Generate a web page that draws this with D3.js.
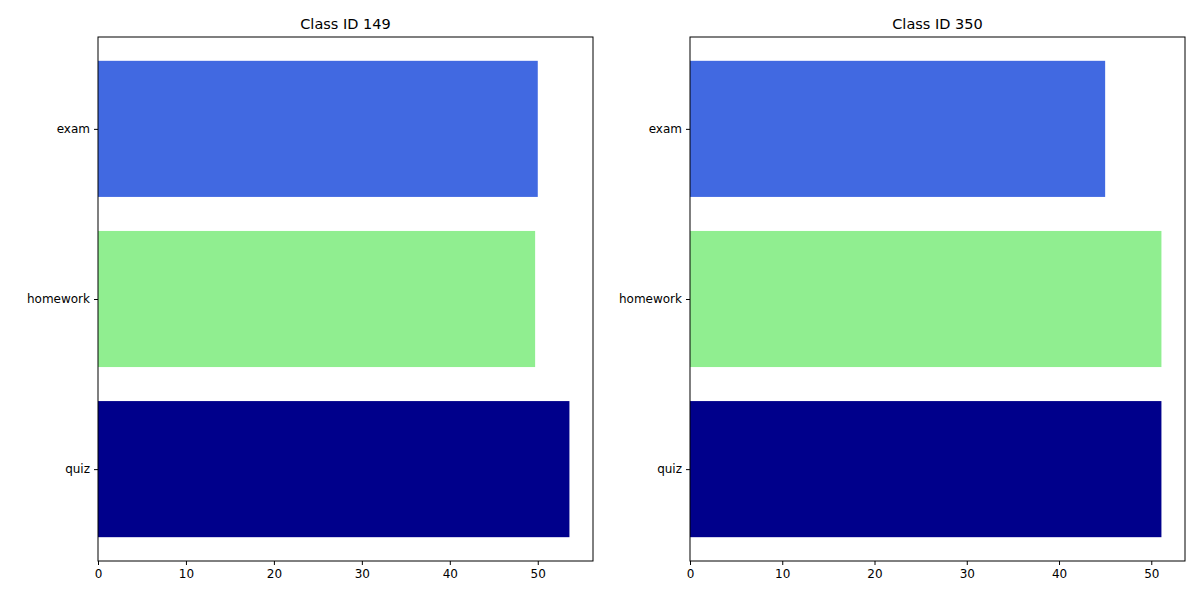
<!DOCTYPE html>
<html><head><meta charset="utf-8">
<script src="https://d3js.org/d3.v7.min.js"></script>
<style>body{margin:0;background:#fff}text{font-family:"DejaVu Sans",sans-serif}</style>
</head><body>
<svg id="chart" width="1200" height="600"></svg>
<script>
const categories = ["quiz", "homework", "exam"];
const colors = ["#00008b", "#90ee90", "#4169e1"];
const titles = ["Class ID 149", "Class ID 350"];
const values149 = [53.6, 49.7, 50.0];
const values350 = [51.1, 51.1, 45.0];
const ticks = [0, 10, 20, 30, 40, 50];

const svg = d3.select("#chart");
const panels = [
  {title: titles[0], values: values149, left: 98, right: 593},
  {title: titles[1], values: values350, left: 690, right: 1185}
];
const plotTop = 37, plotBottom = 561;

panels.forEach(p => {
  const xMax = d3.max(p.values) * 1.05;
  const x = d3.scaleLinear().domain([0, xMax]).range([p.left, p.right]);
  const y = d3.scaleLinear().domain([-0.54, 2.54]).range([plotBottom, plotTop]);
  const g = svg.append("g");

  g.selectAll("rect.bar").data(p.values).enter().append("rect")
    .attr("class", "bar")
    .attr("x", x(0))
    .attr("y", (d, i) => y(i + 0.4))
    .attr("width", d => x(d) - x(0))
    .attr("height", y(-0.4) - y(0.4))
    .attr("fill", (d, i) => colors[i]);

  g.append("rect").attr("x", p.left).attr("y", plotTop)
    .attr("width", p.right - p.left).attr("height", plotBottom - plotTop)
    .attr("fill", "none").attr("stroke", "#000").attr("stroke-width", 1);

  const xa = g.append("g").attr("transform", `translate(0,${plotBottom})`)
    .call(d3.axisBottom(x).tickValues(ticks).tickSize(4).tickPadding(4));
  xa.select(".domain").remove();
  xa.selectAll("text").attr("font-size", 12).attr("fill", "#000");

  const ya = g.append("g").attr("transform", `translate(${p.left},0)`)
    .call(d3.axisLeft(y).tickValues([0, 1, 2]).tickFormat(i => categories[i]).tickSize(4).tickPadding(4));
  ya.select(".domain").remove();
  ya.selectAll("text").attr("font-size", 12).attr("fill", "#000");

  g.append("text").attr("x", (p.left + p.right) / 2).attr("y", plotTop - 8)
    .attr("text-anchor", "middle").attr("font-size", 14.5).text(p.title);
});
</script>
</body></html>
